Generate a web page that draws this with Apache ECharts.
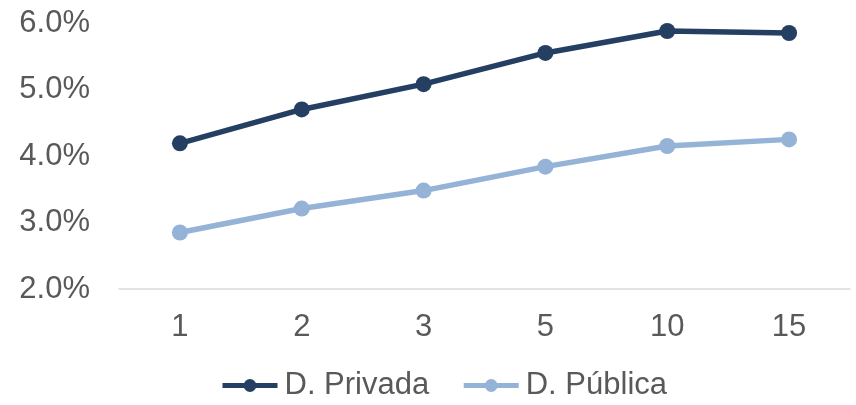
<!DOCTYPE html>
<html>
<head>
<meta charset="utf-8">
<script src="https://cdn.jsdelivr.net/npm/echarts@6/dist/echarts.min.js"></script>
<style>
html,body{margin:0;padding:0;background:#fff;}
#c{width:856px;height:405px;}
</style>
</head>
<body>
<div id="c"></div>
<script>
var categories = ['1', '2', '3', '5', '10', '15'];
var privada = [4.19, 4.70, 5.08, 5.55, 5.88, 5.85];
var publica = [2.85, 3.21, 3.48, 3.84, 4.15, 4.25];
var seriesNames = ['D. Privada', 'D. Pública'];

var FONT = '"Liberation Sans", Arial, sans-serif';
var chart = echarts.init(document.getElementById('c'));
chart.setOption({
  animation: false,
  backgroundColor: '#ffffff',
  grid: { left: 119, right: 6, top: 23, bottom: 116, containLabel: false },
  legend: {
    data: seriesNames,
    left: 220,
    top: 370,
    padding: 0,
    itemWidth: 55,
    itemHeight: 16,
    itemGap: 32,
    lineStyle: { width: 5 },
    textStyle: { fontFamily: FONT, fontSize: 31, color: '#595959', padding: [0, 0, 0, 2] }
  },
  xAxis: {
    type: 'category',
    data: categories,
    boundaryGap: true,
    axisLine: { show: true, lineStyle: { color: '#D9D9D9', width: 1.5 } },
    axisTick: { show: false },
    axisLabel: { fontFamily: FONT, fontSize: 31, color: '#595959', margin: 23 }
  },
  yAxis: {
    type: 'value',
    min: 2,
    max: 6,
    interval: 1,
    axisLine: { show: false },
    axisTick: { show: false },
    splitLine: { show: false },
    axisLabel: {
      fontFamily: FONT, fontSize: 31, color: '#595959', margin: 29,
      formatter: function (v) { return v.toFixed(1) + '%'; }
    }
  },
  series: [
    {
      name: seriesNames[0],
      type: 'line',
      data: privada,
      symbol: 'circle',
      symbolSize: 16,
      color: '#253F63',
      lineStyle: { width: 5.5, color: '#253F63' },
      itemStyle: { color: '#253F63' }
    },
    {
      name: seriesNames[1],
      type: 'line',
      data: publica,
      symbol: 'circle',
      symbolSize: 16,
      color: '#95B3D7',
      lineStyle: { width: 5.5, color: '#95B3D7' },
      itemStyle: { color: '#95B3D7' }
    }
  ]
});
</script>
</body>
</html>
